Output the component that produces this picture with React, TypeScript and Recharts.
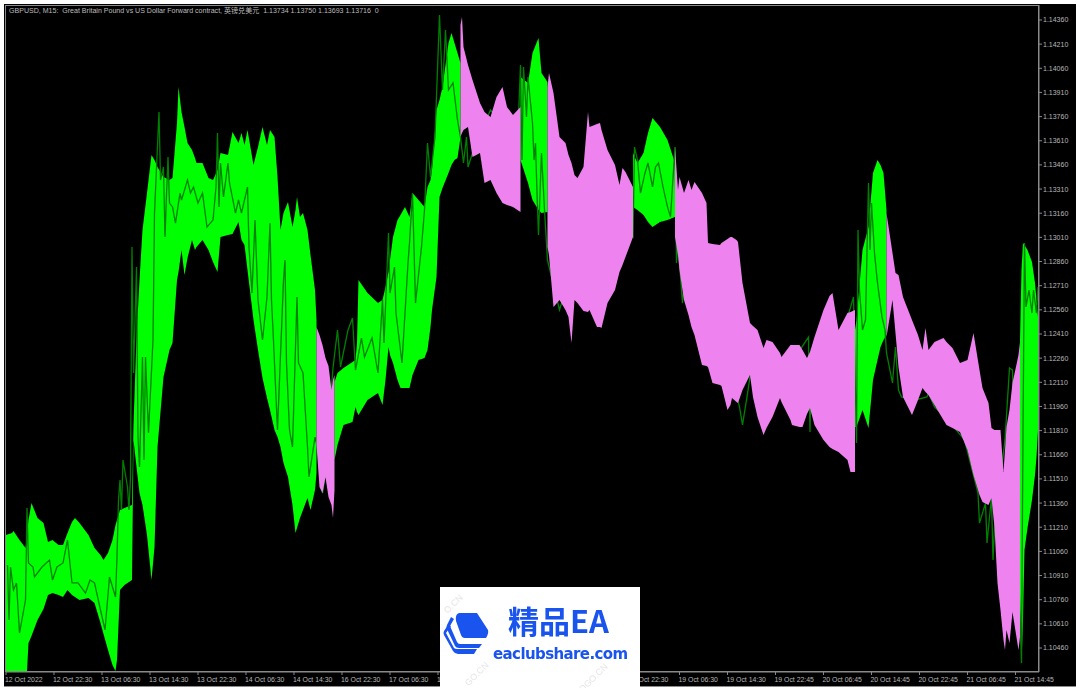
import React from "react";
import { Area, ComposedChart, Line, XAxis, YAxis } from "recharts";

// bar number on the M15 chart; a repeated bar number means the band flips colour there
const bandBars = [
  0, 4, 5, 9, 13, 14, 15, 17, 21, 25, 28, 31, 35, 38, 41, 44, 46, 49, 55, 59, 63, 65, 68, 71, 73, 74, 76, 79, 84, 85, 87, 89, 91, 94, 97, 99, 101, 105, 109, 111, 114, 115, 117, 119, 121, 124, 126, 127, 131, 135, 138, 141, 143, 148, 151, 155, 157, 159, 161, 165, 168, 171, 174, 176, 179, 181, 183, 185, 188, 191, 193, 194, 196, 198, 201, 203, 206, 207,
  207, 209, 211, 213, 215, 217, 218, 219,
  219, 221, 225, 231, 233, 234, 235, 241, 248, 251, 253, 255, 256, 258, 261, 263, 266, 269, 271, 275, 279, 281, 283, 284, 287, 289, 291, 295, 297, 299, 301, 303,
  303, 304, 305, 308, 311, 316, 319, 323, 327, 331, 334, 338, 343,
  343, 348, 351, 355, 357, 361,
  361, 362, 365, 369, 373, 375, 377, 379, 381, 385, 388, 389, 394, 396, 397, 401, 406, 409, 411, 413, 418,
  418, 421, 425, 428, 431, 436, 441, 446,
  446, 448, 449, 452, 455, 457, 459, 464, 467, 468, 471, 476, 477, 481, 483, 484, 487, 488, 491, 496, 498, 501, 505, 507, 511, 516, 517, 523, 524, 529, 531, 534, 536, 539, 545, 549, 551, 555, 561, 563, 566,
  566, 567, 571, 575, 578, 581, 583, 585, 587,
  587, 591, 593, 595, 598, 604, 608, 611, 613, 615, 619, 625, 627, 631, 636, 641, 645, 649, 651, 655, 657, 659, 661, 663, 665, 666, 667, 669, 671, 675, 676,
  676, 677, 678, 679, 681, 684, 686, 687, 688,
];

const bandUpper = [
  1.11162, 1.11174, 1.11186, 1.11131, 1.11081, 1.11162, 1.11255, 1.1136, 1.11267, 1.11236, 1.11118, 1.11131, 1.111, 1.111, 1.11174, 1.11242, 1.11267, 1.11236, 1.11162, 1.11081, 1.11037, 1.11006, 1.1105, 1.11131, 1.11224, 1.11255, 1.11317, 1.11329, 1.11348, 1.11845, 1.12391, 1.12745, 1.13056, 1.13285, 1.13521, 1.1349, 1.13447, 1.13385, 1.13366, 1.13379, 1.1372, 1.13944, 1.13788, 1.13695, 1.13596, 1.13552, 1.13503, 1.13472, 1.13472, 1.13379, 1.13366, 1.13428, 1.13534, 1.13521, 1.13664, 1.13596, 1.13658, 1.13584, 1.13677, 1.13459, 1.13571, 1.13695, 1.13584, 1.13677, 1.13633, 1.13385, 1.13056, 1.13161, 1.1323, 1.13074, 1.1318, 1.13261, 1.13136, 1.13161, 1.13056, 1.129, 1.12683, 1.12497,
  1.12453, 1.12404, 1.12342, 1.12261, 1.12211, 1.12062, 1.12124, 1.12155,
  1.12112, 1.12168, 1.12199, 1.12236, 1.12248, 1.12354, 1.12745, 1.12664, 1.12602, 1.12621, 1.12702, 1.12795, 1.12869, 1.13012, 1.13118, 1.13149, 1.13199, 1.13136, 1.13285, 1.13242, 1.13199, 1.13323, 1.13366, 1.13428, 1.13801, 1.13863, 1.13944, 1.14217, 1.14279, 1.14217, 1.14155, 1.14093,
  1.14329, 1.14378, 1.14192, 1.1408, 1.13987, 1.13844, 1.13788, 1.13757, 1.13882, 1.13944, 1.1382, 1.1377, 1.1382,
  1.14006, 1.13969, 1.14155, 1.14248, 1.14031, 1.13975,
  1.13944, 1.14031, 1.13906, 1.13633, 1.13596, 1.13521, 1.13472, 1.13397, 1.13379, 1.13447, 1.13788, 1.13695, 1.13714, 1.1372, 1.13677, 1.13552, 1.13459, 1.13335, 1.13441, 1.13416, 1.13323,
  1.13534, 1.13472, 1.13534, 1.13658, 1.13751, 1.13695, 1.13615, 1.13472,
  1.13571, 1.13304, 1.13385, 1.13285, 1.13366, 1.13304, 1.13354, 1.13285, 1.13223, 1.12975, 1.12969, 1.12963, 1.12975, 1.13, 1.13012, 1.13012, 1.12994, 1.12981, 1.12727, 1.12478, 1.1246, 1.12435, 1.12323, 1.12373, 1.1236, 1.12292, 1.12267, 1.12342, 1.12342, 1.12342, 1.1231, 1.12261, 1.12298, 1.12391, 1.12559, 1.12646, 1.12664, 1.12435, 1.1254, 1.12546, 1.12559,
  1.12435, 1.12497, 1.12931, 1.13074, 1.1341, 1.1349, 1.13459, 1.1341, 1.1318,
  1.13161, 1.12913, 1.12789, 1.12776, 1.1264, 1.12497, 1.12404, 1.1231, 1.12447, 1.1231, 1.1236, 1.12385, 1.1236, 1.12323, 1.1223, 1.12248, 1.12416, 1.12186, 1.12075, 1.11981, 1.11826, 1.11814, 1.11814, 1.11814, 1.11553, 1.11689, 1.11832, 1.11938, 1.12106, 1.12279, 1.1236,
  1.12373, 1.12807, 1.12975, 1.12963, 1.12931, 1.12857, 1.12727, 1.12621, 1.12515,
];

const bandLower = [
  1.10317, 1.10317, 1.10317, 1.10317, 1.10317, 1.10317, 1.10491, 1.10534, 1.10634, 1.10702, 1.10789, 1.10801, 1.10789, 1.10777, 1.1082, 1.10789, 1.10777, 1.10758, 1.1077, 1.10739, 1.10615, 1.10547, 1.10447, 1.10354, 1.10317, 1.10385, 1.1082, 1.10851, 1.10882, 1.11752, 1.11584, 1.11422, 1.11348, 1.11162, 1.10882, 1.11087, 1.11708, 1.12143, 1.1231, 1.12354, 1.12745, 1.12795, 1.12931, 1.12776, 1.12882, 1.12994, 1.12931, 1.1295, 1.12994, 1.12931, 1.12857, 1.12795, 1.13012, 1.13025, 1.13031, 1.13105, 1.12994, 1.12963, 1.12807, 1.12497, 1.1231, 1.12137, 1.12012, 1.11938, 1.11814, 1.1177, 1.11708, 1.11609, 1.11522, 1.11348, 1.11174, 1.11205, 1.11267, 1.11317, 1.11391, 1.11317, 1.11441, 1.11547,
  1.11721, 1.1146, 1.11422, 1.11522, 1.11398, 1.11348, 1.11267, 1.11441,
  1.11627, 1.11721, 1.11845, 1.11863, 1.11957, 1.11925, 1.11907, 1.12, 1.12043, 1.11969, 1.12124, 1.12329, 1.12279, 1.1223, 1.12124, 1.12075, 1.12075, 1.12075, 1.12155, 1.12248, 1.12261, 1.1231, 1.12453, 1.12559, 1.12764, 1.13261, 1.13317, 1.1341, 1.13459, 1.1349, 1.13503, 1.13633,
  1.13633, 1.13658, 1.13677, 1.13695, 1.13509, 1.13534, 1.13348, 1.13366, 1.13285, 1.13223, 1.13211, 1.13199, 1.13167,
  1.1349, 1.13348, 1.13242, 1.1318, 1.13161, 1.13167,
  1.1295, 1.129, 1.12578, 1.12621, 1.12559, 1.12515, 1.12354, 1.12621, 1.12602, 1.12553, 1.12546, 1.12559, 1.12453, 1.12453, 1.12447, 1.12602, 1.12683, 1.12795, 1.12838, 1.12888, 1.13012,
  1.13199, 1.1318, 1.13149, 1.13105, 1.13074, 1.13105, 1.13118, 1.13136,
  1.13012, 1.129, 1.12807, 1.12621, 1.12528, 1.12453, 1.12404, 1.12217, 1.12211, 1.12205, 1.12106, 1.12093, 1.12087, 1.11938, 1.11969, 1.12012, 1.11988, 1.11981, 1.12062, 1.12155, 1.12019, 1.11894, 1.11783, 1.11826, 1.11894, 1.12012, 1.11988, 1.11876, 1.11845, 1.11832, 1.11832, 1.11913, 1.1195, 1.11845, 1.11752, 1.11708, 1.11696, 1.11677, 1.11627, 1.11553, 1.11553,
  1.11832, 1.11832, 1.11938, 1.11826, 1.12124, 1.12248, 1.12329, 1.12373, 1.12404,
  1.12391, 1.12621, 1.12416, 1.12205, 1.12019, 1.11907, 1.12, 1.12075, 1.1205, 1.12031, 1.11969, 1.11876, 1.11845, 1.11826, 1.11801, 1.11689, 1.11534, 1.1141, 1.11367, 1.11348, 1.11391, 1.11211, 1.10864, 1.10696, 1.1051, 1.10447, 1.10572, 1.10491, 1.10683, 1.10447, 1.10528,
  1.10696, 1.10354, 1.10634, 1.11068, 1.11205, 1.11379, 1.11534, 1.11646, 1.11814,
];

const candleBars = [
  1, 2, 3, 5, 7, 9, 13, 14, 15, 18, 19, 24, 29, 31, 34, 38, 41, 44, 48, 53, 56, 59, 63, 66, 69, 73, 74, 75, 76, 77, 78, 81, 82, 83, 84, 85, 86, 87, 88, 89, 91, 92, 93, 95, 98, 99, 102, 103, 105, 106, 107, 108, 109, 111, 113, 116, 117, 121, 123, 125, 128, 131, 134, 138, 140, 141, 142, 143, 145, 148, 149, 153, 155, 157, 161, 162, 164, 166, 168, 171, 174, 176, 177, 178, 181, 185, 186, 187, 189, 191, 194, 195, 198, 201, 202, 206,
  208, 211, 213, 216, 217, 218, 221, 223, 228, 231, 233, 237, 239, 244, 248, 251, 252, 255, 256, 259, 260, 264, 268, 269, 271, 273, 277, 279, 281, 283, 286, 289, 291, 293, 295, 298, 301, 303, 305, 307, 308, 311, 323, 336, 341,
  343, 344, 345, 347, 348, 351, 352, 353, 354, 355, 357, 359, 361, 369, 371, 379, 399, 413,
  418, 419, 421, 423, 426, 428, 431, 433, 435, 438, 441, 443, 446, 447, 448, 451, 452, 463, 476, 486, 489, 491, 494, 496, 516, 535, 536, 537, 549,
  565, 567, 568, 569, 571, 573, 575, 576, 577, 579, 581, 584, 586, 587, 591, 593, 595, 597, 606, 614, 615, 619, 628, 639, 648, 649, 653, 654, 657, 658, 659, 666, 669, 671,
  677, 678, 679, 680, 682, 684, 685, 687, 688,
];

const candleClose = [
  1.10975, 1.10634, 1.10963, 1.1082, 1.10864, 1.10553, 1.10758, 1.11329, 1.10988, 1.10963, 1.10901, 1.10963, 1.11006, 1.10882, 1.10963, 1.10988, 1.11131, 1.10864, 1.10864, 1.10801, 1.10882, 1.10864, 1.10696, 1.10572, 1.10901, 1.10777, 1.11025, 1.11379, 1.11503, 1.11317, 1.11627, 1.1146, 1.11317, 1.11522, 1.1295, 1.12168, 1.12497, 1.12826, 1.1177, 1.11584, 1.12267, 1.11627, 1.12267, 1.11795, 1.12373, 1.13161, 1.13788, 1.13366, 1.13447, 1.13012, 1.13273, 1.13509, 1.13223, 1.13199, 1.13099, 1.13285, 1.13242, 1.13366, 1.13285, 1.13323, 1.13223, 1.13285, 1.13074, 1.13118, 1.13323, 1.13658, 1.13199, 1.13472, 1.13261, 1.13472, 1.13348, 1.13161, 1.13242, 1.13161, 1.13323, 1.1295, 1.12664, 1.13118, 1.12621, 1.12373, 1.1264, 1.13099, 1.12621, 1.12435, 1.11814, 1.12745, 1.12869, 1.1223, 1.11814, 1.11708, 1.1264, 1.1223, 1.12168, 1.11708, 1.11522, 1.1177,
  1.11689, 1.11422, 1.11547, 1.11398, 1.12081, 1.12199, 1.12435, 1.12205, 1.12435, 1.12509, 1.12186, 1.12385, 1.12267, 1.12385, 1.12168, 1.12621, 1.12354, 1.13037, 1.12664, 1.12826, 1.1254, 1.1223, 1.12851, 1.12975, 1.13285, 1.12602, 1.1295, 1.1318, 1.13596, 1.13385, 1.13633, 1.14391, 1.13925, 1.14298, 1.13925, 1.13969, 1.13739, 1.13633, 1.13472, 1.13633, 1.13447, 1.13534, 1.13801, 1.13658, 1.13596,
  1.1408, 1.1349, 1.14068, 1.13757, 1.14006, 1.1372, 1.1349, 1.13596, 1.13285, 1.13025, 1.13534, 1.1318, 1.12869, 1.12559, 1.12621, 1.12931, 1.12994, 1.13056,
  1.13012, 1.13571, 1.1349, 1.13285, 1.1341, 1.13472, 1.13323, 1.13447, 1.13472, 1.13323, 1.13199, 1.13136, 1.13571, 1.12851, 1.12975, 1.12602, 1.12702, 1.12683, 1.12497, 1.12062, 1.11957, 1.11845, 1.12019, 1.12143, 1.12124, 1.12391, 1.11801, 1.1231, 1.12124,
  1.1264, 1.11733, 1.13056, 1.12683, 1.12435, 1.12497, 1.13348, 1.12931, 1.13223, 1.12913, 1.12727, 1.12515, 1.12435, 1.12292, 1.12106, 1.12329, 1.12062, 1.12019, 1.12, 1.12019, 1.12044, 1.11957, 1.11876, 1.11752, 1.11422, 1.11236, 1.1136, 1.11112, 1.11398, 1.11006, 1.11211, 1.11752, 1.12199, 1.12186,
  1.10367, 1.11795, 1.12975, 1.12578, 1.12683, 1.1254, 1.12683, 1.1254, 1.12702,
];

const priceTicks = [
  1.1436, 1.1421, 1.1406, 1.1391, 1.1376, 1.1361, 1.1346, 1.1331, 1.1316, 1.1301, 1.1286, 1.1271, 1.1256, 1.1241, 1.1226, 1.1211, 1.1196, 1.1181, 1.1166, 1.1151, 1.1136, 1.1121, 1.1106, 1.1091, 1.1076, 1.1061, 1.1046,
];

const timeTicks = [0, 32, 64, 96, 128, 160, 192, 224, 256, 288, 320, 352, 384, 416, 449, 481, 513, 545, 577, 609, 641, 673];

const timeLabels = [
  "12 Oct 2022", "12 Oct 22:30", "13 Oct 06:30", "13 Oct 14:30", "13 Oct 22:30", "14 Oct 06:30", "14 Oct 14:30", "16 Oct 22:30", "17 Oct 06:30", "17 Oct 14:30", "17 Oct 22:30",
  "18 Oct 06:30", "18 Oct 14:30", "18 Oct 22:30", "19 Oct 06:30", "19 Oct 14:30", "19 Oct 22:45", "20 Oct 06:45", "20 Oct 14:45", "20 Oct 22:45", "21 Oct 06:45", "21 Oct 14:45",
];

const title = "GBPUSD, M15:  Great Britain Pound vs US Dollar Forward contract, 英镑兑美元  1.13734 1.13750 1.13693 1.13716  0";

const barDomain = [0, 688.67];
const priceDomain = [1.10311, 1.14453];

// the band changes colour each time a bar number repeats
let rising = true;
const bandRows = bandBars.map((bar, i) => {
  if (i > 0 && bar === bandBars[i - 1]) rising = !rising;
  const range = [bandLower[i], bandUpper[i]];
  return { bar, green: rising ? range : null, pink: rising ? null : range };
});

const candleRows = candleBars.map((bar, i) => ({ bar, close: candleClose[i] }));

const axisFont = "'Liberation Sans', sans-serif";

function TimeTick(props: any) {
  const idx = timeTicks.indexOf(props.payload.value);
  return (
    <text x={props.x - 1} y={681.5} fill="#b8b8b8" fontSize={6.9} fontFamily={axisFont}>
      {timeLabels[idx]}
    </text>
  );
}

function Logo() {
  const mark = { position: "absolute" as const, color: "#e6e6e6", fontSize: 9, fontFamily: axisFont, transform: "rotate(-45deg)" };
  return (
    <div style={{ position: "absolute", left: 440, top: 587, width: 200, height: 101, background: "#fff", overflow: "hidden" }}>
      <span style={{ ...mark, left: 2, top: 12 }}>O.CN</span>
      <span style={{ ...mark, left: 22, top: 82 }}>GO.CN</span>
      <span style={{ ...mark, left: 135, top: 86 }}>OGO.CN</span>
      <svg width={60} height={60} style={{ position: "absolute", left: 0, top: 15 }}>
        <path d="M19 11 H37 L48 28 Q49 31 46 36 H25 Q22 36 21 33 L16 19 Q15 12 19 11 Z" fill="#1a54ee" />
        <path d="M14 17 L10 24 L17 40 Q18 42 20 42 H42 L39 46 H19 Q16 46 15 44 L7 27 Q6 25 7 23 L11 15 Z" fill="#1a54ee" />
        <path d="M11 24 L6 31 L14 46 Q15 47 17 47 H37 L34 52 H18 Q15 52 13 49 L4 33 Q3 31 4 29 L8 23 Z" fill="#1a54ee" />
      </svg>
      <div style={{ position: "absolute", left: 68, top: 13, color: "#1a54ee", fontSize: 31, fontWeight: 700, lineHeight: "40px", fontFamily: "'Noto Sans CJK SC', sans-serif", whiteSpace: "nowrap" }}>
        精品EA
      </div>
      <div style={{ position: "absolute", left: 53, top: 57, color: "#1a54ee", fontSize: 15, fontWeight: 700, lineHeight: "20px", fontFamily: "'DejaVu Sans', sans-serif", letterSpacing: -0.6, whiteSpace: "nowrap" }}>
        eaclubshare.com
      </div>
    </div>
  );
}

export default function App() {
  return (
    <div style={{ position: "absolute", left: 0, top: 0, width: 1080, height: 692, background: "#fff", overflow: "hidden" }}>
      <div style={{ position: "absolute", left: 0, top: 0, width: 1080, height: 692, filter: "blur(0.6px)" }}>
        <div style={{ position: "absolute", left: 4, top: 4, width: 1072, height: 683, background: "#000", borderBottom: "1px solid #8c8c8c", boxSizing: "border-box" }} />
        <div style={{ position: "absolute", left: 5, top: 5, width: 1034, height: 667, border: "1px solid #8a8a8a", boxSizing: "border-box" }} />
        <div style={{ position: "absolute", left: 0, top: 0 }}>
          <ComposedChart width={1080} height={692} data={bandRows} margin={{ top: 5, right: 0, bottom: 0, left: 6 }}>
            <XAxis
              dataKey="bar"
              type="number"
              domain={barDomain}
              allowDataOverflow
              ticks={timeTicks}
              interval={0}
              height={20}
              tick={TimeTick}
              tickSize={3}
              axisLine={{ stroke: "#8a8a8a" }}
              tickLine={{ stroke: "#8a8a8a" }}
            />
            <YAxis
              orientation="right"
              type="number"
              domain={priceDomain}
              allowDataOverflow
              ticks={priceTicks}
              interval={0}
              width={41}
              tickSize={3}
              tickMargin={1}
              tickFormatter={(v: number) => v.toFixed(5)}
              tick={{ fill: "#b8b8b8", fontSize: 7, fontFamily: axisFont }}
              axisLine={{ stroke: "#8a8a8a" }}
              tickLine={{ stroke: "#8a8a8a" }}
            />
            <Area dataKey="green" type="linear" stroke="none" fill="#00ff00" fillOpacity={1} dot={false} activeDot={false} isAnimationActive={false} />
            <Line data={candleRows} dataKey="close" type="linear" stroke="#008000" strokeWidth={1.3} dot={false} activeDot={false} isAnimationActive={false} />
          </ComposedChart>
        </div>
        {/* pink band sits over the candle line, so it gets its own layer with the same scales */}
        <div style={{ position: "absolute", left: 0, top: 0 }}>
          <ComposedChart width={1080} height={692} data={bandRows} margin={{ top: 5, right: 41, bottom: 20, left: 6 }}>
            <XAxis dataKey="bar" type="number" domain={barDomain} allowDataOverflow hide />
            <YAxis type="number" domain={priceDomain} allowDataOverflow hide />
            <Area dataKey="pink" type="linear" stroke="none" fill="#ee82ee" fillOpacity={1} dot={false} activeDot={false} isAnimationActive={false} />
          </ComposedChart>
        </div>
        <div style={{ position: "absolute", left: 9, top: 6, color: "#bcbcbc", fontSize: 7.05, lineHeight: "10px", fontFamily: "'Liberation Sans', 'Noto Sans CJK SC', sans-serif", whiteSpace: "pre" }}>
          {title}
        </div>
        <Logo />
      </div>
    </div>
  );
}
